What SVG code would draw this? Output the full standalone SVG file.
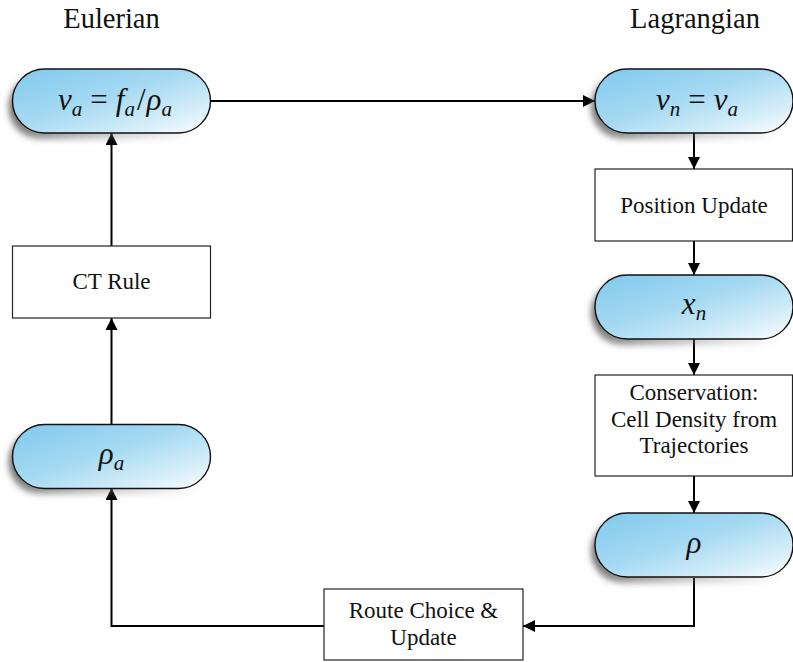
<svg xmlns="http://www.w3.org/2000/svg" xmlns:xlink="http://www.w3.org/1999/xlink" width="793" height="662" viewBox="0 0 793 662">
<style>
  .title { font-family: "Liberation Serif", "Times New Roman", serif; font-size: 28.5px; fill: #111; text-anchor: middle; }
  .label { font-family: "Liberation Serif", "Times New Roman", serif; font-size: 23px; fill: #111; text-anchor: middle; }
  .math { font-family: "Liberation Serif", "Times New Roman", serif; font-size: 31px; font-style: italic; fill: #111; text-anchor: middle; }
  .sub { font-size: 21px; }
  .up { font-style: normal; }
  .box { fill: #fff; stroke: #222; stroke-width: 1.2; }
  .pill { fill: url(#pillGrad); stroke: #111; stroke-width: 1.4; }
  .shadow { fill: url(#shadowGrad); filter: url(#blur); }
  .conn { fill: none; stroke: #000; stroke-width: 2; }
</style>
<defs>
  <linearGradient id="pillGrad" x1="0" y1="0" x2="1" y2="1">
    <stop offset="0" stop-color="#80c9ee"/>
    <stop offset="0.45" stop-color="#a5d9f2"/>
    <stop offset="0.8" stop-color="#d9eff9"/>
    <stop offset="1" stop-color="#ffffff"/>
  </linearGradient>
  <linearGradient id="shadowGrad" x1="0" y1="0" x2="1" y2="0">
    <stop offset="0" stop-color="#444" stop-opacity="0.75"/>
    <stop offset="0.5" stop-color="#777" stop-opacity="0.4"/>
    <stop offset="1" stop-color="#999" stop-opacity="0"/>
  </linearGradient>
  <filter id="blur" x="-20%" y="-40%" width="140%" height="180%">
    <feGaussianBlur stdDeviation="3"/>
  </filter>
  <rect id="pillShape" x="0" y="0" width="198" height="64" rx="32" ry="32"/>
  <marker id="arrow" markerUnits="userSpaceOnUse" markerWidth="12" markerHeight="12" refX="12" refY="6" orient="auto">
    <path d="M0,0 L12,6 L0,12 z" fill="#000"/>
  </marker>
</defs>

<g id="titles">
  <text class="title" x="111.5" y="28">Eulerian</text>
  <text class="title" x="695" y="28">Lagrangian</text>
</g>

<g id="connectors">
  <path class="conn" d="M210.5,101 L595,101" marker-end="url(#arrow)"/>
  <path class="conn" d="M694,133 L694,169" marker-end="url(#arrow)"/>
  <path class="conn" d="M694,241 L694,275" marker-end="url(#arrow)"/>
  <path class="conn" d="M694,339 L694,375" marker-end="url(#arrow)"/>
  <path class="conn" d="M694,476 L694,513" marker-end="url(#arrow)"/>
  <path class="conn" d="M694,578 L694,626 L523,626" marker-end="url(#arrow)"/>
  <path class="conn" d="M324,626 L111.5,626 L111.5,488" marker-end="url(#arrow)"/>
  <path class="conn" d="M111.5,425 L111.5,318" marker-end="url(#arrow)"/>
  <path class="conn" d="M111.5,246 L111.5,133" marker-end="url(#arrow)"/>
</g>

<g id="node-va">
  <use xlink:href="#pillShape" class="shadow" x="8.5" y="75"/>
  <use xlink:href="#pillShape" class="pill" x="12.5" y="69"/>
  <text class="math" x="115" y="110">v<tspan class="sub" dy="6">a</tspan><tspan class="up" dx="8" dy="-6">=</tspan><tspan dx="8">f</tspan><tspan class="sub" dy="6">a</tspan><tspan class="up" dx="2" dy="-6">/</tspan><tspan dx="1">ρ</tspan><tspan class="sub" dy="6">a</tspan></text>
</g>

<g id="node-vn">
  <use xlink:href="#pillShape" class="shadow" x="591" y="75"/>
  <use xlink:href="#pillShape" class="pill" x="595" y="69"/>
  <text class="math" x="697" y="110">v<tspan class="sub" dy="6">n</tspan><tspan class="up" dx="8" dy="-6">=</tspan><tspan dx="8">v</tspan><tspan class="sub" dy="6">a</tspan></text>
</g>

<g id="node-position-update">
  <rect class="box" x="595" y="169" width="197.5" height="72"/>
  <text class="label" x="694" y="213">Position Update</text>
</g>

<g id="node-xn">
  <use xlink:href="#pillShape" class="shadow" x="591" y="281"/>
  <use xlink:href="#pillShape" class="pill" x="595" y="275"/>
  <text class="math" x="694" y="314">x<tspan class="sub" dy="6">n</tspan></text>
</g>

<g id="node-conservation">
  <rect class="box" x="595" y="375" width="197.5" height="101"/>
  <text class="label" x="694" y="400">Conservation:</text>
  <text class="label" x="694" y="427">Cell Density from</text>
  <text class="label" x="694" y="453">Trajectories</text>
</g>

<g id="node-rho">
  <use xlink:href="#pillShape" class="shadow" x="591" y="519"/>
  <use xlink:href="#pillShape" class="pill" x="595" y="513"/>
  <text class="math" x="694" y="553">ρ</text>
</g>

<g id="node-route">
  <rect class="box" x="324" y="589" width="199" height="71"/>
  <text class="label" x="423.5" y="618">Route Choice &amp;</text>
  <text class="label" x="423.5" y="645">Update</text>
</g>

<g id="node-rhoa">
  <use xlink:href="#pillShape" class="shadow" x="8.5" y="430"/>
  <use xlink:href="#pillShape" class="pill" x="12.5" y="424.5"/>
  <text class="math" x="111.5" y="464">ρ<tspan class="sub" dy="6">a</tspan></text>
</g>

<g id="node-ct-rule">
  <rect class="box" x="12.5" y="246" width="198" height="72"/>
  <text class="label" x="111.5" y="289">CT Rule</text>
</g>
</svg>
